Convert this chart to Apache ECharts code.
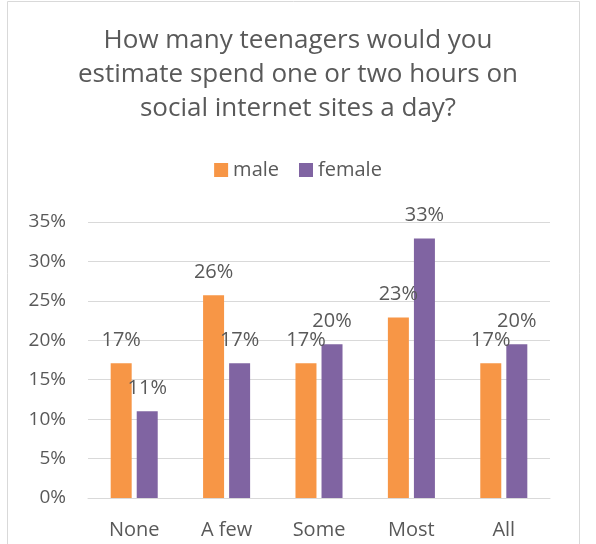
<!DOCTYPE html>
<html><head><meta charset="utf-8">
<script src="https://cdn.jsdelivr.net/npm/echarts@6/dist/echarts.min.js"></script>
<style>html,body{margin:0;padding:0;background:#fff}#c{width:596px;height:544px}</style>
</head><body><div id="c"></div>
<script>
const categories = ["None", "A few", "Some", "Most", "All"];
const maleValues = [17.1, 25.7, 17.1, 22.9, 17.1];
const femaleValues = [11.0, 17.1, 19.5, 32.9, 19.5];
const seriesNames = ["male", "female"];
const titleText = "How many teenagers would you\nestimate spend one or two hours on\nsocial internet sites a day?";

const FONT = "Open Sans";
const TXT = "#595959";
const chart = echarts.init(document.getElementById('c'), null, {renderer: 'canvas'});
const labelCfg = {
  show: true, position: 'top', distance: 13, color: TXT, fontFamily: FONT, fontSize: 20,
  formatter: p => Math.round(p.value) + '%'
};
chart.setOption({
  animation: false,
  graphic: [{
    type: 'rect', shape: {x: 7.5, y: 1.5, width: 572, height: 600},
    style: {fill: 'none', stroke: '#D9D9D9', lineWidth: 1}, silent: true
  }],
  title: {
    text: titleText, left: 'center', top: 19,
    textStyle: {fontFamily: FONT, fontSize: 26, fontWeight: 'normal', color: TXT, lineHeight: 34}
  },
  legend: {
    data: seriesNames, top: 155, left: 'center', itemWidth: 14, itemHeight: 14, itemGap: 20,
    icon: 'rect', textStyle: {fontFamily: FONT, fontSize: 20, color: TXT}
  },
  grid: {left: 88, right: 46, top: 222, bottom: 46},
  xAxis: {
    type: 'category', data: categories,
    axisLine: {lineStyle: {color: '#D9D9D9'}}, axisTick: {show: false},
    axisLabel: {fontFamily: FONT, fontSize: 20, color: TXT, margin: 22}
  },
  yAxis: {
    type: 'value', min: 0, max: 35, interval: 5,
    axisLabel: {formatter: '{value}%', fontFamily: FONT, fontSize: 19, color: TXT, margin: 22},
    splitLine: {lineStyle: {color: '#D9D9D9'}}
  },
  series: [
    {name: seriesNames[0], type: 'bar', data: maleValues, barWidth: 21, barGap: '24%', itemStyle: {color: '#F79646'}, label: labelCfg},
    {name: seriesNames[1], type: 'bar', data: femaleValues, barWidth: 21, barGap: '24%', itemStyle: {color: '#8064A2'}, label: labelCfg}
  ]
});
</script></body></html>
